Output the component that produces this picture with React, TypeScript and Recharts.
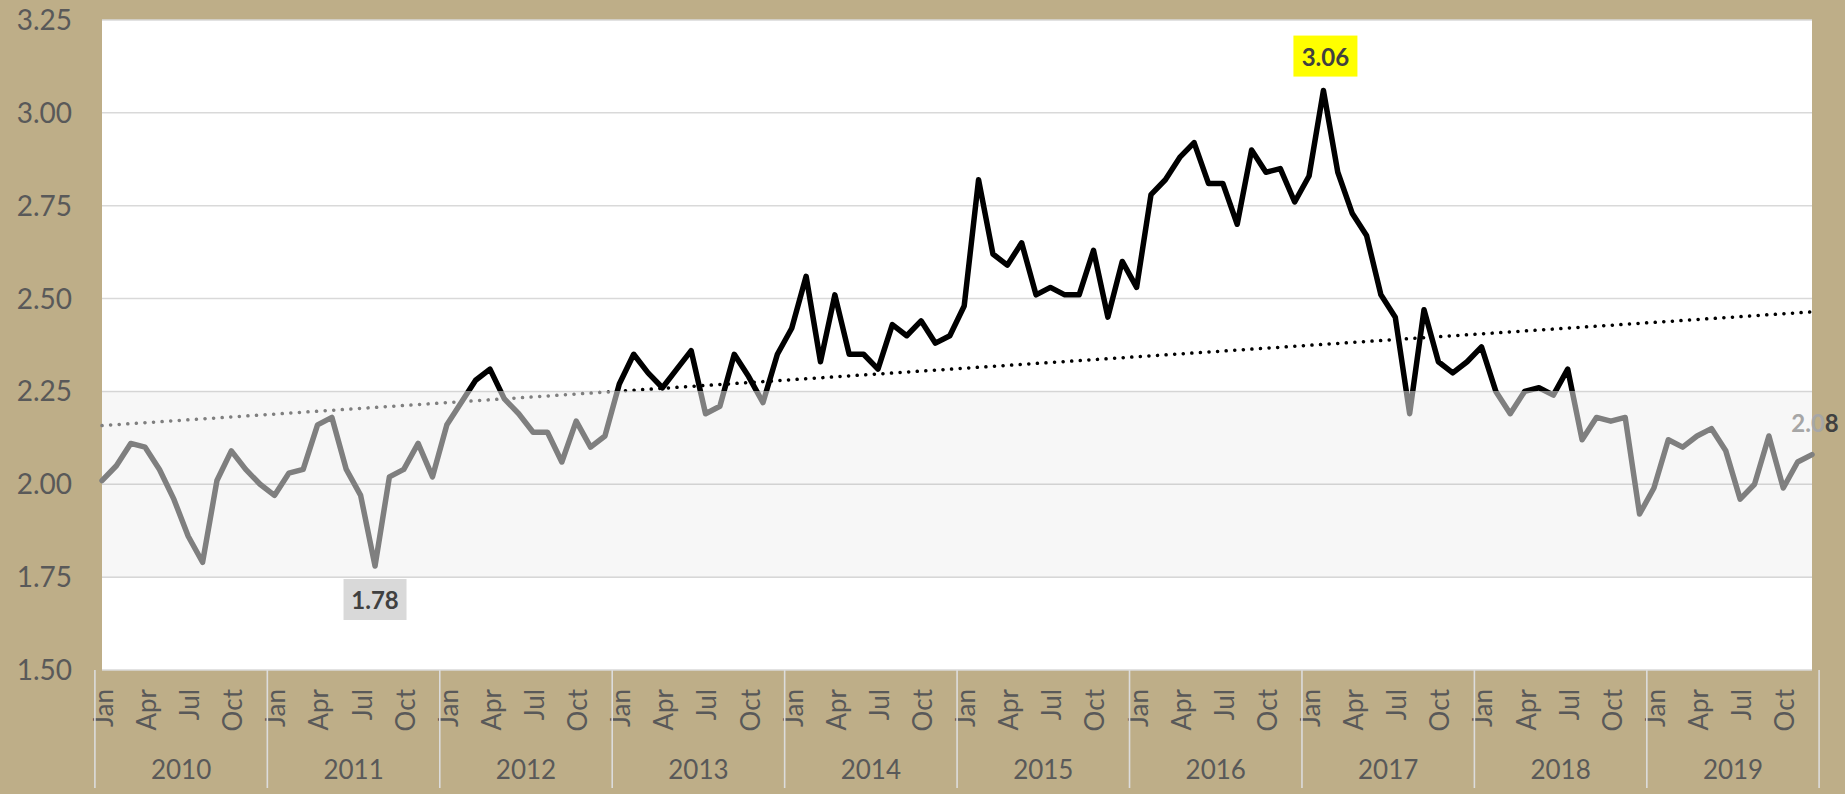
import React from 'react';
import { LineChart, Line, XAxis, YAxis, CartesianGrid, ReferenceArea } from 'recharts';

const years = [2010, 2011, 2012, 2013, 2014, 2015, 2016, 2017, 2018, 2019];
const monthNames = ['Jan', 'Feb', 'Mar', 'Apr', 'May', 'Jun', 'Jul', 'Aug', 'Sep', 'Oct', 'Nov', 'Dec'];
const shownMonths = ['Jan', 'Apr', 'Jul', 'Oct'];

const values2010 = [2.01, 2.05, 2.11, 2.10, 2.04, 1.96, 1.86, 1.79, 2.01, 2.09, 2.04, 2.00];
const values2011 = [1.97, 2.03, 2.04, 2.16, 2.18, 2.04, 1.97, 1.78, 2.02, 2.04, 2.11, 2.02];
const values2012 = [2.16, 2.22, 2.28, 2.31, 2.23, 2.19, 2.14, 2.14, 2.06, 2.17, 2.10, 2.13];
const values2013 = [2.27, 2.35, 2.30, 2.26, 2.31, 2.36, 2.19, 2.21, 2.35, 2.29, 2.22, 2.35];
const values2014 = [2.42, 2.56, 2.33, 2.51, 2.35, 2.35, 2.31, 2.43, 2.40, 2.44, 2.38, 2.40];
const values2015 = [2.48, 2.82, 2.62, 2.59, 2.65, 2.51, 2.53, 2.51, 2.51, 2.63, 2.45, 2.60];
const values2016 = [2.53, 2.78, 2.82, 2.88, 2.92, 2.81, 2.81, 2.70, 2.90, 2.84, 2.85, 2.76];
const values2017 = [2.83, 3.06, 2.84, 2.73, 2.67, 2.51, 2.45, 2.19, 2.47, 2.33, 2.30, 2.33];
const values2018 = [2.37, 2.25, 2.19, 2.25, 2.26, 2.24, 2.31, 2.12, 2.18, 2.17, 2.18, 1.92];
const values2019 = [1.99, 2.12, 2.10, 2.13, 2.15, 2.09, 1.96, 2.00, 2.13, 1.99, 2.06, 2.08];

const yearlyValues = [
  values2010, values2011, values2012, values2013, values2014,
  values2015, values2016, values2017, values2018, values2019,
];

const yTicks = [1.5, 1.75, 2.0, 2.25, 2.5, 2.75, 3.0, 3.25];
const threshold = 2.25;
const bandLow = 1.75;

const TAN = '#BEAE88';
const DARK = '#000000';
const GREY = '#7F7F7F';
const TEXT = '#595959';
const FONT = 'Lato, "Open Sans", sans-serif';

type Row = { key: string; year: number; month: string; monthIndex: number; value: number; trend?: number };

const data: Row[] = [];
years.forEach((yr, yi) => {
  yearlyValues[yi].forEach((v, mi) => {
    data.push({ key: `${yr}-${mi}`, year: yr, month: monthNames[mi], monthIndex: mi, value: v });
  });
});

// Linear trendline (least squares), as Excel's trendline
const n = data.length;
const meanX = (n - 1) / 2;
const meanY = data.reduce((s, d) => s + d.value, 0) / n;
let sxy = 0;
let sxx = 0;
data.forEach((d, i) => {
  sxy += (i - meanX) * (d.value - meanY);
  sxx += (i - meanX) * (i - meanX);
});
const slope = sxy / sxx;
const intercept = meanY - slope * meanX;
data.forEach((d, i) => {
  d.trend = intercept + slope * i;
});

const keyIndex: Record<string, number> = {};
data.forEach((d, i) => (keyIndex[d.key] = i));

const vals = data.map((d) => d.value);
const vMax = Math.max(...vals);
const vMin = Math.min(...vals);
const maxIdx = vals.indexOf(vMax);
const minIdx = vals.indexOf(vMin);
const lastIdx = n - 1;
const lineOffset = (vMax - threshold) / (vMax - vMin);

const trends = data.map((d) => d.trend as number);
const tMax = Math.max(...trends);
const tMin = Math.min(...trends);
const trendOffset = Math.min(1, Math.max(0, (tMax - threshold) / (tMax - tMin)));

const AxisTick = (props: any) => {
  const { x, y, payload } = props;
  const i = keyIndex[payload.value];
  const d = data[i];
  if (!d) return <g />;
  const half = typeof payload.offset === 'number' && payload.offset > 0 ? payload.offset : 7.1;
  const my = y + 19;
  return (
    <g>
      {shownMonths.includes(d.month) && (
        <text
          x={x}
          y={my}
          transform={`rotate(-90 ${x} ${my})`}
          textAnchor="end"
          dy="0.42em"
          fontFamily={FONT}
          fontSize={26}
          fill={TEXT}
        >
          {d.month}
        </text>
      )}
      {d.monthIndex === 0 && (
        <line x1={x - half} x2={x - half} y1={y} y2={y + 118} stroke="#DCDCDC" strokeWidth={1.6} />
      )}
      {i === lastIdx && (
        <line x1={x + half} x2={x + half} y1={y} y2={y + 118} stroke="#DCDCDC" strokeWidth={1.6} />
      )}
      {d.monthIndex === 6 && (
        <text x={x - half} y={y + 109} textAnchor="middle" fontFamily={FONT} fontSize={26} fill={TEXT}>
          {d.year}
        </text>
      )}
    </g>
  );
};

const renderDot = (p: any) => {
  const { cx, cy, index, value } = p;
  const label = typeof value === 'number' ? value.toFixed(2) : String(value);
  if (index === maxIdx) {
    return (
      <g key={`lbl-${index}`}>
        <rect x={cx - 30} y={cy - 55} width={64} height={41} fill="#FFFF00" />
        <text x={cx + 2} y={cy - 34.5} textAnchor="middle" dominantBaseline="central" fontFamily={FONT} fontWeight={700} fontSize={24} fill="#404040">
          {label}
        </text>
      </g>
    );
  }
  if (index === minIdx) {
    return (
      <g key={`lbl-${index}`}>
        <rect x={cx - 31.5} y={cy + 13} width={63} height={41} fill="#D9D9D9" />
        <text x={cx} y={cy + 33.5} textAnchor="middle" dominantBaseline="central" fontFamily={FONT} fontWeight={700} fontSize={24} fill="#404040">
          {label}
        </text>
      </g>
    );
  }
  if (index === lastIdx) {
    return (
      <g key={`lbl-${index}`}>
        <text x={cx + 3} y={cy - 33} textAnchor="middle" dominantBaseline="central" fontFamily={FONT} fontWeight={700} fontSize={24}>
          <tspan fill="#A6A6A6">{label.slice(0, 3)}</tspan>
          <tspan fill="#404040">{label.slice(3)}</tspan>
        </text>
      </g>
    );
  }
  return <g key={`dot-${index}`} />;
};

export default function App() {
  return (
    <div
      style={{
        position: 'absolute',
        left: 0,
        top: 0,
        width: 1845,
        height: 794,
        background: TAN,
        fontFamily: FONT,
      }}
    >
      <LineChart width={1845} height={794} data={data} margin={{ top: 20, right: 33, bottom: 0, left: 0 }}>
        <defs>
          <linearGradient id="lineGrad" x1="0" y1="0" x2="0" y2="1">
            <stop offset={0} stopColor={DARK} />
            <stop offset={lineOffset} stopColor={DARK} />
            <stop offset={lineOffset} stopColor={GREY} />
            <stop offset={1} stopColor={GREY} />
          </linearGradient>
          <linearGradient id="trendGrad" x1="0" y1="0" x2="0" y2="1">
            <stop offset={0} stopColor={DARK} />
            <stop offset={trendOffset} stopColor={DARK} />
            <stop offset={trendOffset} stopColor={GREY} />
            <stop offset={1} stopColor={GREY} />
          </linearGradient>
        </defs>
        <CartesianGrid vertical={false} stroke="#D9D9D9" strokeWidth={1.5} fill="#FFFFFF" fillOpacity={1} />
        <ReferenceArea y1={bandLow} y2={threshold} fill="#000000" fillOpacity={0.03} stroke="none" />
        <XAxis
          dataKey="key"
          type="category"
          interval={0}
          height={124}
          tickSize={0}
          tickMargin={0}
          tickLine={false}
          axisLine={false}
          tick={<AxisTick />}
        />
        <YAxis
          type="number"
          domain={[1.5, 3.25]}
          ticks={yTicks}
          width={102}
          tickSize={0}
          tickMargin={30}
          tickLine={false}
          axisLine={false}
          tickFormatter={(v: number) => v.toFixed(2)}
          tick={{ fontFamily: FONT, fontSize: 28, fill: TEXT }}
          allowDataOverflow
        />
        <Line
          type="linear"
          dataKey="trend"
          stroke="url(#trendGrad)"
          strokeWidth={3.5}
          strokeDasharray="0.1 8.5"
          strokeLinecap="round"
          dot={false}
          activeDot={false}
          isAnimationActive={false}
        />
        <Line
          type="linear"
          dataKey="value"
          stroke="url(#lineGrad)"
          strokeWidth={5.5}
          strokeLinejoin="round"
          strokeLinecap="round"
          dot={renderDot}
          activeDot={false}
          isAnimationActive={false}
        />
      </LineChart>
    </div>
  );
}
